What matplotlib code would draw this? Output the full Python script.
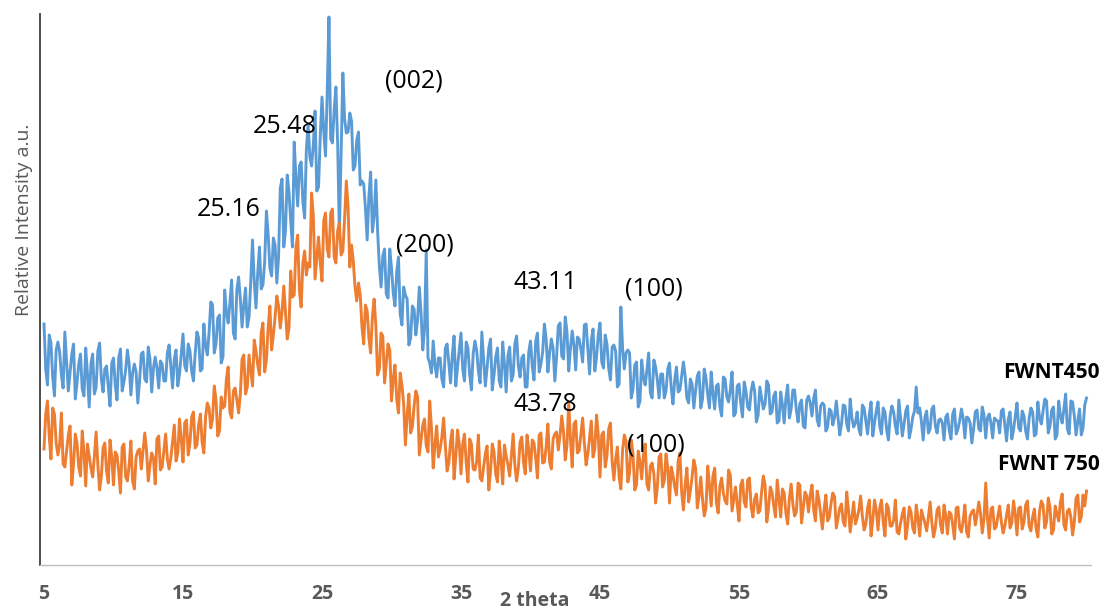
import numpy as np
import matplotlib
matplotlib.use('Agg')
import matplotlib.pyplot as plt

plt.rcParams['font.family'] = ['Open Sans', 'DejaVu Sans']

# 2-theta scan grid, 0.125 degree steps from 5 to 80
two_theta = np.linspace(5, 80, 601)

# relative intensity (a.u.), FWNT annealed at 450 (two degrees per row)
fwnt450 = [
    239, 194, 178, 228, 220, 186, 167, 213, 221, 211, 188, 175, 231, 201, 172, 191,
    209, 219, 164, 180, 199, 209, 174, 167, 215, 189, 156, 199, 209, 169, 176, 212,
    220, 184, 171, 194, 197, 176, 157, 200, 205, 178, 163, 205, 214, 172, 181, 193,
    213, 199, 168, 190, 199, 191, 160, 182, 209, 211, 184, 181, 216, 204, 171, 195,
    206, 195, 175, 202, 199, 182, 182, 210, 218, 197, 175, 204, 213, 177, 189, 209,
    229, 197, 192, 219, 212, 192, 182, 209, 231, 225, 192, 194, 239, 217, 208, 230,
    261, 258, 210, 219, 245, 248, 200, 206, 273, 250, 240, 260, 283, 230, 224, 273,
    286, 264, 236, 258, 275, 236, 246, 282, 323, 282, 255, 290, 316, 274, 278, 301,
    352, 329, 295, 287, 325, 318, 280, 306, 375, 384, 316, 333, 388, 371, 342, 316,
    421, 385, 357, 397, 401, 361, 345, 413, 439, 406, 397, 418, 452, 372, 376, 427,
    466, 432, 407, 470, 546, 424, 420, 453, 476, 420, 330, 408, 490, 444, 430, 431,
    450, 442, 393, 397, 423, 431, 378, 382, 379, 355, 323, 367, 391, 331, 347, 383,
    332, 297, 276, 307, 314, 269, 265, 314, 295, 270, 257, 291, 306, 249, 238, 276,
    268, 264, 218, 225, 257, 254, 228, 243, 276, 250, 213, 234, 313, 205, 200, 190,
    222, 198, 186, 205, 205, 184, 176, 215, 219, 199, 180, 208, 227, 177, 196, 213,
    230, 194, 182, 221, 215, 188, 173, 209, 222, 213, 192, 180, 231, 204, 177, 195,
    215, 224, 173, 188, 206, 215, 182, 176, 221, 199, 171, 207, 216, 182, 188, 219,
    227, 197, 186, 205, 208, 176, 176, 211, 222, 197, 183, 222, 230, 191, 199, 211,
    239, 224, 191, 210, 224, 215, 182, 206, 237, 240, 207, 204, 246, 231, 192, 215,
    232, 218, 193, 226, 224, 214, 201, 238, 239, 214, 189, 223, 234, 192, 206, 228,
    240, 201, 195, 228, 219, 195, 183, 216, 218, 212, 176, 179, 256, 215, 194, 210,
    213, 210, 165, 174, 198, 201, 156, 162, 203, 185, 178, 193, 210, 170, 165, 203,
    196, 183, 165, 189, 189, 165, 172, 194, 200, 175, 159, 183, 196, 171, 173, 187,
    201, 187, 165, 160, 184, 179, 155, 172, 187, 191, 155, 164, 194, 185, 168, 155,
    191, 170, 154, 177, 179, 156, 147, 186, 184, 166, 161, 173, 191, 147, 150, 177,
    179, 160, 146, 181, 172, 156, 153, 172, 181, 172, 141, 148, 176, 165, 154, 159,
    182, 178, 149, 151, 167, 171, 140, 142, 171, 158, 140, 165, 178, 145, 154, 173,
    173, 153, 141, 159, 163, 137, 135, 163, 167, 160, 147, 165, 173, 143, 137, 157,
    160, 158, 132, 136, 154, 152, 138, 146, 162, 145, 128, 139, 158, 157, 139, 132,
    164, 145, 136, 140, 151, 134, 128, 158, 155, 142, 129, 148, 161, 127, 140, 152,
    161, 137, 129, 155, 151, 133, 123, 147, 157, 151, 137, 129, 163, 145, 127, 139,
    152, 157, 125, 134, 146, 152, 176, 150, 155, 141, 123, 146, 152, 130, 134, 154,
    157, 137, 130, 143, 144, 140, 123, 146, 149, 133, 124, 149, 154, 129, 134, 142,
    154, 145, 125, 146, 145, 140, 120, 134, 151, 153, 134, 132, 156, 148, 125, 145,
    149, 140, 125, 145, 143, 142, 130, 152, 154, 138, 122, 144, 151, 124, 133, 147,
    160, 135, 132, 152, 147, 132, 124, 145, 155, 151, 127, 129, 161, 145, 139, 152,
    164, 162, 130, 137, 153, 156, 124, 128, 162, 147, 140, 154, 169, 134, 129, 162,
    161, 147, 128, 142, 154, 128, 135, 158,
    165,
]

# relative intensity (a.u.), FWNT annealed at 750 (two degrees per row)
fwnt750 = [
    114, 149, 162, 127, 104, 155, 149, 120, 108, 118, 150, 99, 96, 112, 128, 137,
    78, 99, 129, 120, 96, 87, 132, 111, 77, 119, 107, 95, 86, 107, 131, 98,
    73, 87, 115, 120, 92, 80, 123, 106, 78, 111, 108, 92, 70, 116, 119, 86,
    82, 98, 122, 82, 74, 106, 112, 114, 94, 112, 130, 113, 82, 98, 110, 105,
    79, 124, 127, 93, 96, 113, 129, 104, 94, 105, 122, 138, 102, 110, 144, 124,
    101, 140, 143, 108, 120, 146, 151, 115, 118, 138, 149, 121, 110, 146, 160, 155,
    135, 144, 177, 163, 127, 132, 166, 155, 157, 184, 196, 151, 145, 172, 175, 163,
    150, 169, 204, 208, 169, 176, 208, 192, 177, 223, 212, 198, 188, 230, 240, 191,
    203, 235, 257, 213, 228, 246, 267, 257, 235, 251, 277, 250, 224, 235, 292, 266,
    268, 316, 328, 272, 256, 300, 312, 288, 300, 296, 370, 347, 284, 305, 326, 300,
    282, 342, 350, 314, 306, 350, 354, 306, 300, 332, 340, 308, 312, 344, 382, 356,
    296, 318, 302, 276, 262, 280, 268, 236, 219, 258, 252, 225, 210, 246, 264, 237,
    188, 194, 230, 227, 180, 199, 219, 213, 162, 184, 198, 164, 150, 190, 178, 159,
    118, 148, 169, 130, 136, 157, 172, 166, 108, 123, 138, 144, 117, 111, 162, 135,
    95, 118, 137, 106, 114, 126, 145, 117, 92, 100, 122, 133, 84, 106, 133, 119,
    89, 119, 129, 100, 81, 124, 119, 94, 93, 101, 128, 85, 82, 96, 109, 117,
    73, 92, 119, 111, 89, 81, 122, 103, 79, 118, 107, 98, 87, 107, 129, 98,
    82, 95, 121, 126, 100, 89, 128, 113, 92, 123, 120, 105, 85, 128, 130, 100,
    101, 116, 139, 101, 94, 124, 129, 131, 113, 128, 147, 131, 103, 118, 160, 124,
    96, 139, 142, 110, 112, 128, 145, 120, 98, 109, 126, 142, 106, 114, 148, 128,
    86, 128, 131, 96, 107, 134, 140, 101, 83, 104, 116, 86, 74, 113, 128, 122,
    81, 90, 123, 109, 73, 78, 112, 101, 84, 108, 119, 79, 73, 97, 100, 89,
    60, 76, 106, 109, 76, 82, 109, 95, 60, 96, 88, 76, 68, 102, 110, 71,
    53, 78, 95, 61, 72, 86, 103, 95, 55, 67, 86, 64, 47, 55, 97, 78,
    57, 87, 95, 60, 50, 77, 85, 70, 62, 59, 93, 88, 52, 64, 76, 58,
    42, 78, 83, 61, 56, 83, 85, 56, 46, 64, 69, 50, 52, 71, 87, 78,
    41, 55, 76, 71, 57, 46, 83, 64, 46, 74, 70, 50, 39, 65, 79, 59,
    47, 51, 80, 78, 40, 56, 71, 67, 51, 68, 78, 53, 42, 72, 63, 49,
    34, 54, 68, 42, 46, 60, 70, 66, 35, 45, 55, 59, 41, 37, 71, 53,
    31, 46, 61, 39, 45, 53, 67, 47, 33, 39, 55, 63, 27, 43, 63, 53,
    33, 55, 63, 41, 27, 59, 55, 37, 37, 43, 63, 31, 29, 40, 49, 55,
    24, 37, 56, 51, 35, 30, 58, 45, 27, 53, 46, 40, 32, 46, 61, 40,
    26, 35, 53, 56, 38, 30, 58, 47, 29, 51, 49, 38, 24, 55, 56, 35,
    31, 42, 58, 31, 26, 47, 51, 53, 38, 48, 61, 50, 30, 44, 80, 45,
    25, 54, 56, 34, 36, 47, 57, 41, 30, 37, 48, 58, 35, 40, 62, 49,
    28, 55, 56, 34, 41, 58, 62, 37, 32, 46, 54, 34, 26, 52, 62, 58,
    35, 41, 65, 55, 29, 33, 57, 49, 42, 61, 69, 38, 33, 52, 54, 46,
    28, 41, 65, 68, 41, 46, 68, 57,
    72,
]

x_ticks = [5, 15, 25, 35, 45, 55, 65, 75]

W, H = 1105, 610
fig = plt.figure(figsize=(W / 100, H / 100), dpi=100)
ax = fig.add_axes([40 / W, 45 / H, 1051 / W, 551 / H])

ax.plot(two_theta, fwnt450, color='#5B9BD5', lw=2.1, zorder=2)
ax.plot(two_theta, fwnt750, color='#ED7D31', lw=2.1, zorder=3)

ax.set_xlim(5 - 4 / 13.9, 5 + 1047 / 13.9)
ax.set_ylim(-2, 549)

for side in ['top', 'right']:
    ax.spines[side].set_visible(False)
ax.spines['left'].set_color('#404040')
ax.spines['left'].set_linewidth(1.3)
ax.spines['bottom'].set_color('#BFBFBF')
ax.spines['bottom'].set_linewidth(1.0)

ax.set_yticks([])
ax.set_xticks(x_ticks)
ax.set_xticklabels([str(t) for t in x_ticks], fontsize=14, fontweight='bold', color='#595959')
ax.tick_params(axis='x', length=0, pad=14)


def px_text(x, y, s, **kw):
    # place text using pixel positions measured from the top-left corner
    fig.text(x / W, 1 - y / H, s, **kw)


px_text(24, 220, 'Relative Intensity a.u.', rotation=90, ha='center', va='center',
        fontsize=14, color='#595959')
px_text(500, 606, '2 theta', ha='left', va='baseline', fontsize=14,
        fontweight='bold', color='#595959')

peak_style = dict(fontsize=18, color='black', ha='left', va='baseline')
px_text(253, 133, '25.48', **peak_style)
px_text(197, 216, '25.16', **peak_style)
px_text(385, 88, '(002)', **peak_style)
px_text(396, 251, '(200)', **peak_style)
px_text(513, 289, '43.11', **peak_style)
px_text(625, 295, '(100)', **peak_style)
px_text(513, 411, '43.78', **peak_style)
px_text(627, 451, '(100)', **peak_style)

px_text(1100, 378, 'FWNT450', ha='right', va='baseline', fontsize=15,
        fontweight='bold', color='black')
px_text(1100, 470, 'FWNT 750', ha='right', va='baseline', fontsize=15,
        fontweight='bold', color='black')

fig.savefig('out.png', dpi=100)
